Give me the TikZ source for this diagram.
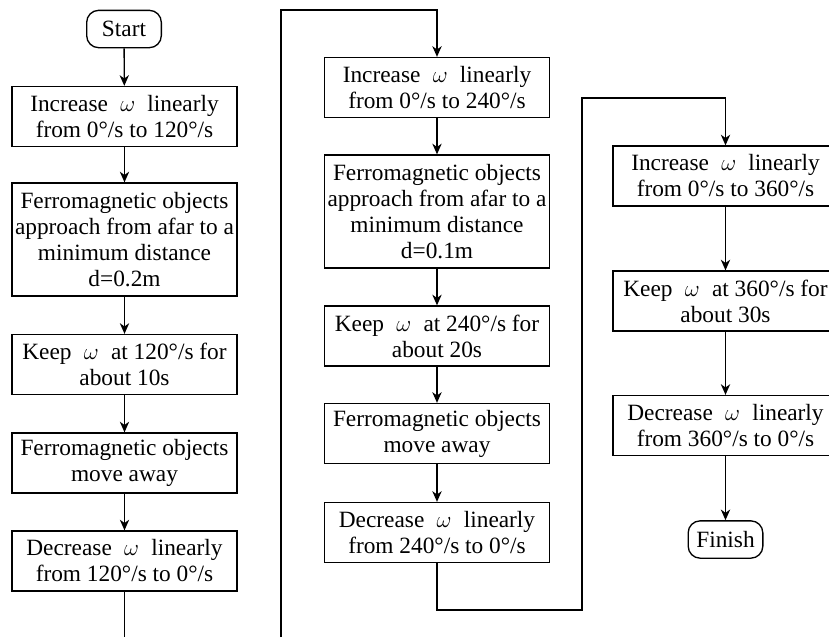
\documentclass[tikz,border=0pt]{standalone}
\usepackage{fontspec}
\setmainfont{Liberation Serif}
\usetikzlibrary{arrows.meta}

\begin{document}
\begin{tikzpicture}[
    x=0.75pt, y=-0.75pt,
    arr/.style={-{Stealth[length=8pt,width=7pt,inset=2.5pt]}, line width=1pt},
    ln/.style={line width=1pt},
    txt/.style={font=\fontsize{17.5}{19.5}\selectfont},
    stepbox/.style={draw, txt, line width=1pt, align=center,
        minimum width=168.75pt, inner sep=0pt},
    twoline/.style={stepbox, minimum height=45pt},
    fourline/.style={stepbox, minimum height=84.75pt},
    term/.style={draw, txt, line width=1pt, rounded corners=9pt,
        minimum width=56pt, minimum height=28pt, inner sep=0pt},
]
\clip (0,0) rectangle (829,637);

% First round: 120 deg/s
\node[term] (start) at (124,29) {Start};
\node[twoline] (a1) at (124.5,116.5) {Increase~\;$\omega$\;~linearly\\ from 0°/s to 120°/s};
\node[fourline] (a2) at (124.5,239.5) {Ferromagnetic objects\\ approach from afar to a\\ minimum distance\\ d=0.2m};
\node[twoline] (a3) at (124.5,364.5) {Keep~\;$\omega$\;~at 120°/s for\\ about~10s};
\node[twoline] (a4) at (124.5,463) {Ferromagnetic objects\\ move away};
\node[twoline] (a5) at (124.5,561) {Decrease~\;$\omega$\;~linearly\\ from 120°/s to 0°/s};

\draw[arr] (start) -- (a1);
\draw[arr] (a1) -- (a2);
\draw[arr] (a2) -- (a3);
\draw[arr] (a3) -- (a4);
\draw[arr] (a4) -- (a5);
\coordinate (out1) at (124.5,637);
\draw[ln] (a5) -- (out1);

% Second round: 240 deg/s
\node[twoline] (b1) at (437,87.5) {Increase~\;$\omega$\;~linearly\\ from 0°/s to 240°/s};
\node[fourline] (b2) at (437,211.5) {Ferromagnetic objects\\ approach from afar to a\\ minimum distance\\ d=0.1m};
\node[twoline] (b3) at (437,336) {Keep~\;$\omega$\;~at 240°/s for\\ about~20s};
\node[twoline] (b4) at (437,433.5) {Ferromagnetic objects\\ move away};
\node[twoline] (b5) at (437,532.5) {Decrease~\;$\omega$\;~linearly\\ from 240°/s to 0°/s};

\coordinate (in2) at (281,637);
\coordinate (top2) at (281,10);
\draw[arr] (in2) -- (top2) -| (b1);
\draw[arr] (b1) -- (b2);
\draw[arr] (b2) -- (b3);
\draw[arr] (b3) -- (b4);
\draw[arr] (b4) -- (b5);

% Third round: 360 deg/s
\node[twoline] (c1) at (725.5,176) {Increase~\;$\omega$\;~linearly\\ from 0°/s to 360°/s};
\node[twoline] (c2) at (725.5,301) {Keep~\;$\omega$\;~at 360°/s for\\ about~30s};
\node[twoline] (c3) at (725.5,425.5) {Decrease~\;$\omega$\;~linearly\\ from 360°/s to 0°/s};
\node[term] (finish) at (725.5,539.5) {Finish};

\coordinate (low2) at (582,610);
\coordinate (top3) at (582,98);
\draw[arr] (b5) |- (low2) -- (top3) -| (c1);
\draw[arr] (c1) -- (c2);
\draw[arr] (c2) -- (c3);
\draw[arr] (c3) -- (finish);

\end{tikzpicture}
\end{document}
